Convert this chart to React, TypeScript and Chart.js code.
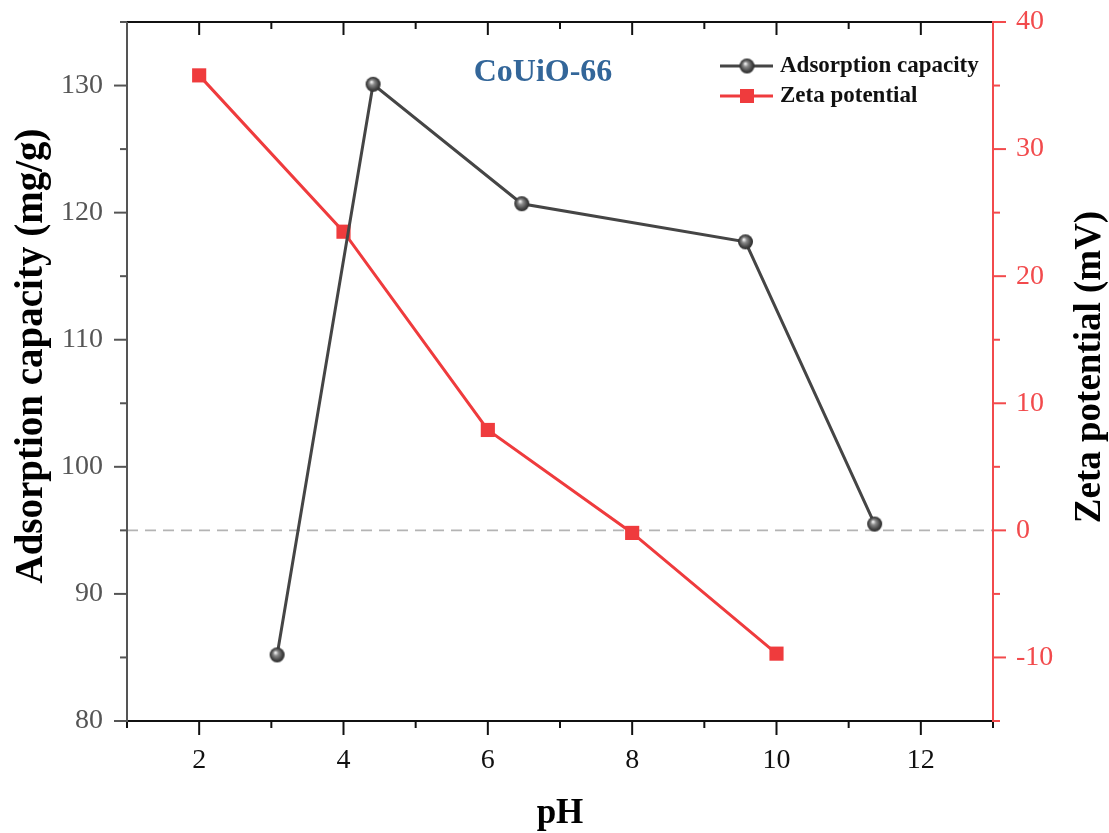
import { useEffect, useRef } from 'react';
import { Chart, registerables } from 'chart.js';

Chart.register(...registerables);

// Adsorption capacity vs pH (left axis)
const phAdsorption = [3.08, 4.41, 6.47, 9.57, 11.36];
const adsorption = [85.2, 130.1, 120.7, 117.7, 95.5];

// Zeta potential vs pH (right axis)
const phZeta = [2, 4, 6, 8, 10];
const zeta = [35.8, 23.5, 7.9, -0.2, -9.7];

// Zero-potential reference line
const zeroLineX = [1, 13];
const zeroLineY = [0, 0];

// Axis ticks
const xMajor = [2, 4, 6, 8, 10, 12];
const xMinor = [1, 3, 5, 7, 9, 11, 13];
const leftMajor = [80, 90, 100, 110, 120, 130];
const leftMinor = [85, 95, 105, 115, 125, 135];
const rightMajor = [-10, 0, 10, 20, 30, 40];
const rightMinor = [-15, -5, 5, 15, 25, 35];

const FONT = '"Liberation Serif", "Times New Roman", serif';
const RED = '#ef3b3d';
const RED_AXIS = '#f24a4c';
const DARK = '#454545';
const LEFT_AXIS = '#555555';

function makeSphere(r: number): HTMLCanvasElement {
  const s = r * 2 + 2;
  const c = document.createElement('canvas');
  c.width = s;
  c.height = s;
  const g = c.getContext('2d')!;
  const grad = g.createRadialGradient(s * 0.4, s * 0.36, 0.5, s / 2, s / 2, r);
  grad.addColorStop(0, '#f0f0f0');
  grad.addColorStop(0.3, '#8a8a8a');
  grad.addColorStop(0.75, '#444444');
  grad.addColorStop(1, '#2a2a2a');
  g.fillStyle = grad;
  g.beginPath();
  g.arc(s / 2, s / 2, r, 0, Math.PI * 2);
  g.fill();
  return c;
}

function makeDecorations(sphere: HTMLCanvasElement) {
  return {
    id: 'decorations',
    afterDatasetsDraw(chart: any) {
      const ctx: CanvasRenderingContext2D = chart.ctx;
      const { left, right, top, bottom } = chart.chartArea;
      const xs = chart.scales.x;
      const yl = chart.scales.y;
      const yr = chart.scales.y1;

      ctx.save();
      ctx.lineCap = 'butt';

      const line = (x1: number, y1: number, x2: number, y2: number, color: string, w = 2) => {
        ctx.strokeStyle = color;
        ctx.lineWidth = w;
        ctx.beginPath();
        ctx.moveTo(x1, y1);
        ctx.lineTo(x2, y2);
        ctx.stroke();
      };

      // top axis (inward ticks)
      line(left - 1, top, right + 1, top, '#111');
      xMajor.forEach((v) => { const p = xs.getPixelForValue(v); line(p, top, p, top + 13, '#111'); });
      xMinor.forEach((v) => { const p = xs.getPixelForValue(v); line(p, top, p, top + 7, '#111'); });

      // bottom axis (outward ticks)
      line(left - 1, bottom, right + 1, bottom, '#111');
      xMajor.forEach((v) => { const p = xs.getPixelForValue(v); line(p, bottom, p, bottom + 14, '#111'); });
      xMinor.forEach((v) => { const p = xs.getPixelForValue(v); line(p, bottom, p, bottom + 7, '#111'); });

      // left axis
      line(left, top, left, bottom + 1, LEFT_AXIS);
      leftMajor.forEach((v) => { const p = yl.getPixelForValue(v); line(left - 13, p, left, p, LEFT_AXIS); });
      leftMinor.forEach((v) => { const p = yl.getPixelForValue(v); line(left - 7, p, left, p, LEFT_AXIS); });

      // right axis
      line(right, top - 1, right, bottom + 1, RED_AXIS);
      rightMajor.forEach((v) => { const p = yr.getPixelForValue(v); line(right, p, right + 13, p, RED_AXIS); });
      rightMinor.forEach((v) => { const p = yr.getPixelForValue(v); line(right, p, right + 7, p, RED_AXIS); });

      // tick labels
      ctx.font = `28px ${FONT}`;
      ctx.textBaseline = 'middle';
      ctx.fillStyle = '#111';
      ctx.textAlign = 'center';
      xMajor.forEach((v) => ctx.fillText(String(v), xs.getPixelForValue(v), bottom + 40));
      ctx.fillStyle = '#555';
      ctx.textAlign = 'right';
      leftMajor.forEach((v) => ctx.fillText(String(v), left - 24, yl.getPixelForValue(v)));
      ctx.fillStyle = RED_AXIS;
      ctx.textAlign = 'left';
      rightMajor.forEach((v) => ctx.fillText(String(v), right + 23, yr.getPixelForValue(v)));

      // axis titles
      ctx.fillStyle = '#000';
      ctx.textBaseline = 'alphabetic';
      ctx.textAlign = 'center';
      ctx.font = `bold 35px ${FONT}`;
      ctx.fillText('pH', (left + right) / 2, bottom + 102);

      ctx.font = `bold 39px ${FONT}`;
      ctx.save();
      ctx.translate(42, 356);
      ctx.rotate(-Math.PI / 2);
      ctx.fillText('Adsorption capacity (mg/g)', 0, 0);
      ctx.restore();

      ctx.font = `bold 37px ${FONT}`;
      ctx.save();
      ctx.translate(1100, 367);
      ctx.rotate(-Math.PI / 2);
      ctx.fillText('Zeta potential (mV)', 0, 0);
      ctx.restore();

      // sample label
      ctx.fillStyle = '#336699';
      ctx.font = `bold 32px ${FONT}`;
      ctx.textBaseline = 'middle';
      ctx.textAlign = 'center';
      ctx.fillText('CoUiO-66', 543, 73);

      // legend
      const lx1 = 720;
      const lx2 = 773;
      const lm = 747;
      const rows = [66, 96];
      line(lx1, rows[0], lx2, rows[0], DARK, 3);
      ctx.drawImage(sphere, lm - sphere.width / 2, rows[0] - sphere.height / 2);
      line(lx1, rows[1], lx2, rows[1], RED, 3);
      ctx.fillStyle = RED;
      ctx.fillRect(lm - 7, rows[1] - 7, 14, 14);
      ctx.fillStyle = '#111';
      ctx.font = `bold 23px ${FONT}`;
      ctx.textAlign = 'left';
      ctx.textBaseline = 'middle';
      ctx.fillText('Adsorption capacity', 780, rows[0]);
      ctx.fillText('Zeta potential', 780, rows[1]);

      ctx.restore();
    },
  };
}

export default function App() {
  const ref = useRef<HTMLCanvasElement>(null);

  useEffect(() => {
    const sphere = makeSphere(7.5);
    const chart = new Chart(ref.current!, {
      type: 'scatter',
      data: {
        datasets: [
          {
            label: 'Adsorption capacity',
            data: phAdsorption.map((x, i) => ({ x, y: adsorption[i] })),
            yAxisID: 'y',
            showLine: true,
            borderColor: DARK,
            borderWidth: 3,
            pointStyle: sphere as any,
            pointRadius: 7.5,
            clip: false,
          },
          {
            label: 'Zeta potential',
            data: phZeta.map((x, i) => ({ x, y: zeta[i] })),
            yAxisID: 'y1',
            showLine: true,
            borderColor: RED,
            backgroundColor: RED,
            borderWidth: 3,
            pointStyle: 'rect',
            pointRadius: 10,
            pointBorderWidth: 0,
            clip: false,
          },
          {
            label: 'zero',
            data: zeroLineX.map((x, i) => ({ x, y: zeroLineY[i] })),
            yAxisID: 'y1',
            showLine: true,
            borderColor: '#b4b4b4',
            borderWidth: 1.6,
            borderDash: [11, 7],
            pointRadius: 0,
          },
        ],
      },
      options: {
        responsive: false,
        animation: false,
        layout: { padding: { left: 127, right: 116, top: 22, bottom: 112 } },
        scales: {
          x: { type: 'linear', min: 1, max: 13, display: false },
          y: { type: 'linear', position: 'left', min: 80, max: 135, display: false },
          y1: { type: 'linear', position: 'right', min: -15, max: 40, display: false },
        },
        plugins: {
          legend: { display: false },
          tooltip: { enabled: false },
        },
      },
      plugins: [makeDecorations(sphere)],
    });
    return () => chart.destroy();
  }, []);

  return (
    <canvas
      ref={ref}
      width={1109}
      height={833}
      style={{ position: 'absolute', left: 0, top: 0, background: '#fff' }}
    />
  );
}
